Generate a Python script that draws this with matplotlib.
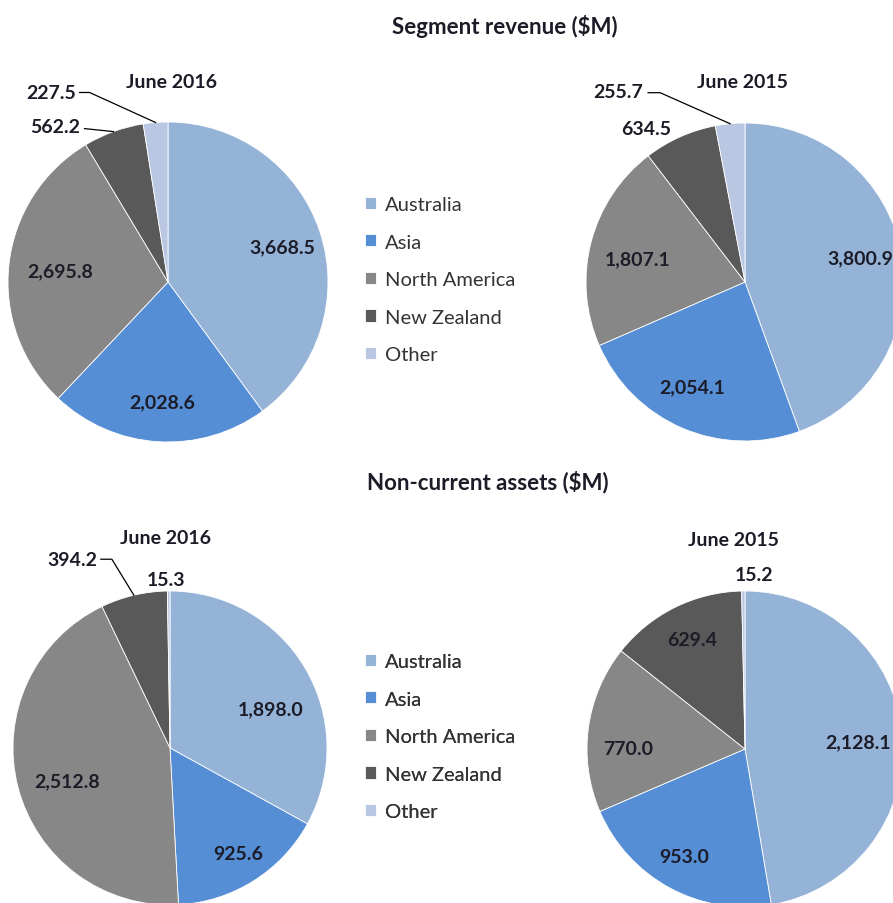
import numpy as np
import matplotlib.pyplot as plt

W, H = 893, 904

regions = ['Australia', 'Asia', 'North America', 'New Zealand', 'Other']
colors = ['#95B3D7', '#558ED5', '#878787', '#595959', '#B9C7E2']

revenue_2016 = [3668.5, 2028.6, 2695.8, 562.2, 227.5]
revenue_2015 = [3800.9, 2054.1, 1807.1, 634.5, 255.7]
assets_2016 = [1898.0, 925.6, 2512.8, 394.2, 15.3]
assets_2015 = [2128.1, 953.0, 770.0, 629.4, 15.2]

section_titles = ['Segment revenue ($M)', 'Non-current assets ($M)']
pie_titles = ['June 2016', 'June 2015', 'June 2016', 'June 2015']

plt.rcParams['font.family'] = ['Lato', 'DejaVu Sans']
text_col = '#1c1c28'

# layout of every pie, in image pixels (y down)
# inner: index -> (radius fraction, angle shift)
# outer: index -> (text offset, ha, leader line points) relative to rim point, y up
pies = [
    dict(vals=revenue_2016, c=(168, 283), r=160, title=(171, 83),
         inner={0: (0.75, -1), 1: (0.75, 1), 2: (0.68, 0)},
         outer={3: ((-33, 5), 'right', [(-29, 3), (0, 0)]),
                4: ((-80, 30), 'right', [(-76, 30), (-66, 30), (0, 0)])}),
    dict(vals=revenue_2015, c=(745, 283), r=159, title=(742, 83),
         inner={0: (0.74, 2), 1: (0.74, -3.6), 2: (0.69, 2.5)},
         outer={3: ((-34, 8), 'center', []),
                4: ((-87, 32), 'right', [(-82, 31), (-70, 31), (0, 0)])}),
    dict(vals=assets_2016, c=(170, 749), r=157, title=(165, 538),
         inner={0: (0.69, -9.5), 1: (0.80, 0.6), 2: (0.69, 3.2)},
         outer={3: ((-37, 36), 'right', [(-33, 36), (-22, 36), (0, 0)]),
                4: ((-3, 12), 'center', [])}),
    dict(vals=assets_2015, c=(745, 750), r=158, title=(733, 540),
         inner={0: (0.72, -1), 1: (0.78, -0.8), 2: (0.74, 7.5), 3: (0.77, -0.7)},
         outer={4: ((11, 17), 'center', [])}),
]

fig = plt.figure(figsize=(W / 100, H / 100), dpi=100)
ax = fig.add_axes([0, 0, 1, 1])

handles = None
for i, p in enumerate(pies):
    cx, cy = p['c'][0], H - p['c'][1]
    R = p['r']
    wedges, _ = ax.pie(p['vals'], colors=colors, startangle=90, counterclock=False,
                       radius=R, center=(cx, cy),
                       wedgeprops=dict(edgecolor='white', linewidth=0.6))
    if handles is None:
        handles = wedges
    for j, w in enumerate(wedges):
        mid = np.deg2rad((w.theta1 + w.theta2) / 2)
        lab = f'{p["vals"][j]:,.1f}'
        if j in p['inner']:
            fr, dth = p['inner'][j]
            a = mid + np.deg2rad(dth)
            ax.text(cx + fr * R * np.cos(a), cy + fr * R * np.sin(a), lab,
                    ha='center', va='center', fontsize=14, fontweight='bold', color=text_col)
        else:
            (tx, ty), ha, line = p['outer'][j]
            rx, ry = cx + R * np.cos(mid), cy + R * np.sin(mid)
            ax.text(rx + tx, ry + ty, lab, ha=ha, va='center', fontsize=14,
                    fontweight='bold', color=text_col)
            if line:
                ax.plot([rx + q[0] for q in line], [ry + q[1] for q in line],
                        color='black', lw=0.9)
    ax.text(p['title'][0], H - p['title'][1], pie_titles[i], ha='center', va='center',
            fontsize=14, fontweight='bold', color=text_col)

ax.text(505, H - 27, section_titles[0], ha='center', va='center', fontsize=16,
        fontweight='bold', color=text_col)
ax.text(488, H - 482, section_titles[1], ha='center', va='center', fontsize=16,
        fontweight='bold', color=text_col)

for top in [197, 654]:
    ax.legend(handles, regions, loc='upper left', bbox_to_anchor=(365, H - top),
              bbox_transform=ax.transData, frameon=False, fontsize=14.5,
              handlelength=0.55, handleheight=0.55, handletextpad=0.45,
              labelspacing=1.02, borderpad=0, borderaxespad=0, labelcolor='#333333')
    ax.add_artist(ax.get_legend())

ax.set_xlim(0, W)
ax.set_ylim(0, H)
ax.set_aspect('equal')
ax.axis('off')

fig.savefig('out.png', dpi=100)
